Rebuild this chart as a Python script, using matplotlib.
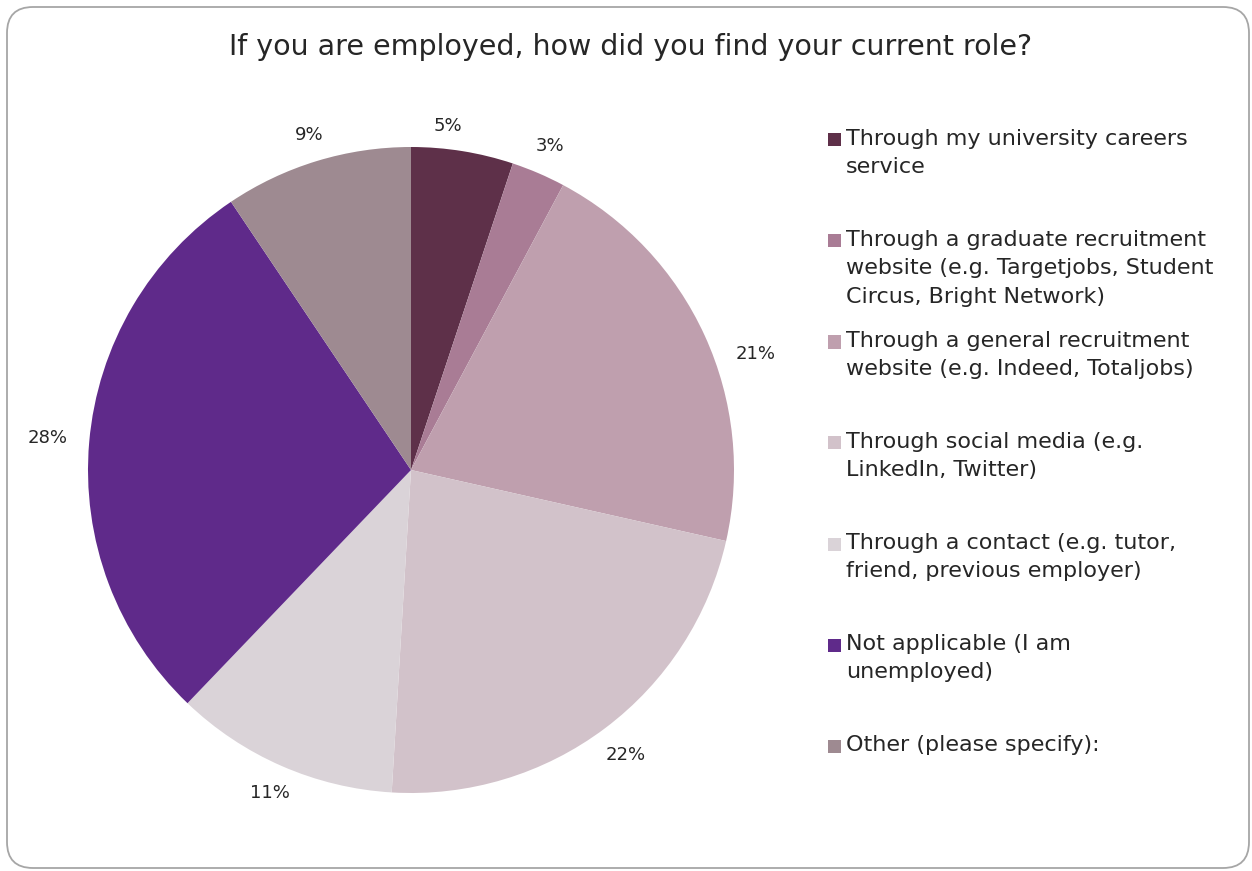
import matplotlib
matplotlib.use('Agg')
import numpy as np
import matplotlib.pyplot as plt
from matplotlib.patches import FancyBboxPatch, Rectangle
from matplotlib.transforms import IdentityTransform

plt.rcParams['font.family'] = ['DejaVu Sans']

# survey answers (percent of respondents)
labels = [
    'Through my university careers\nservice',
    'Through a graduate recruitment\nwebsite (e.g. Targetjobs, Student\nCircus, Bright Network)',
    'Through a general recruitment\nwebsite (e.g. Indeed, Totaljobs)',
    'Through social media (e.g.\nLinkedIn, Twitter)',
    'Through a contact (e.g. tutor,\nfriend, previous employer)',
    'Not applicable (I am\nunemployed)',
    'Other (please specify):',
]
values = [5.1, 2.7, 20.7, 22.4, 11.2, 28.4, 9.4]
colors = ['#5E3049', '#A97C95', '#BF9FAE', '#D2C2CA', '#DAD3D8', '#5F2A8A', '#9E8A91']

W, H = 1252, 871
fig = plt.figure(figsize=(W / 100, H / 100), dpi=100)

# rounded frame around the whole chart (pixel coordinates)
frame = FancyBboxPatch((7, 3), W - 10, H - 10,
                       boxstyle='round,pad=0,rounding_size=26',
                       transform=IdentityTransform(), fill=False,
                       edgecolor='#A6A6A6', linewidth=1.3)
fig.patches.append(frame)

fig.text(0.504, 1 - 47 / H, 'If you are employed, how did you find your current role?',
         ha='center', va='center', fontsize=20.5, color='#262626')

ax = fig.add_axes([88 / W, 1 - 793 / H, 646 / W, 646 / H])
wedges, _ = ax.pie(values, colors=colors, startangle=90, counterclock=False, radius=1,
                   wedgeprops=dict(linewidth=0))

# percentage labels just outside each slice, pushed out more at the sides
label_nudge = {0: 3, 2: -6}  # degrees away from the slice centre
total = sum(values)
for i, (w, v) in enumerate(zip(wedges, values)):
    ang = np.deg2rad((w.theta1 + w.theta2) / 2 + label_nudge.get(i, 0))
    d = 1.065 + 0.065 * abs(np.cos(ang))
    ax.text(d * np.cos(ang), d * np.sin(ang), f'{v / total * 100:.0f}%',
            ha='center', va='center', fontsize=13, color='#262626')
ax.set_xlim(-1, 1)
ax.set_ylim(-1, 1)
ax.set_aspect('equal')
ax.axis('off')

# legend on the right, one block per answer
for i, (lab, c) in enumerate(zip(labels, colors)):
    y = 140 + i * 101
    fig.patches.append(Rectangle((828 / W, 1 - (y + 6.5) / H), 13 / W, 13 / H,
                                 transform=fig.transFigure, facecolor=c, edgecolor='none'))
    fig.text(846 / W, 1 - (y - 11) / H, lab, ha='left', va='top', fontsize=16,
             color='#262626', linespacing=1.52)

fig.savefig('out.png', dpi=100)
